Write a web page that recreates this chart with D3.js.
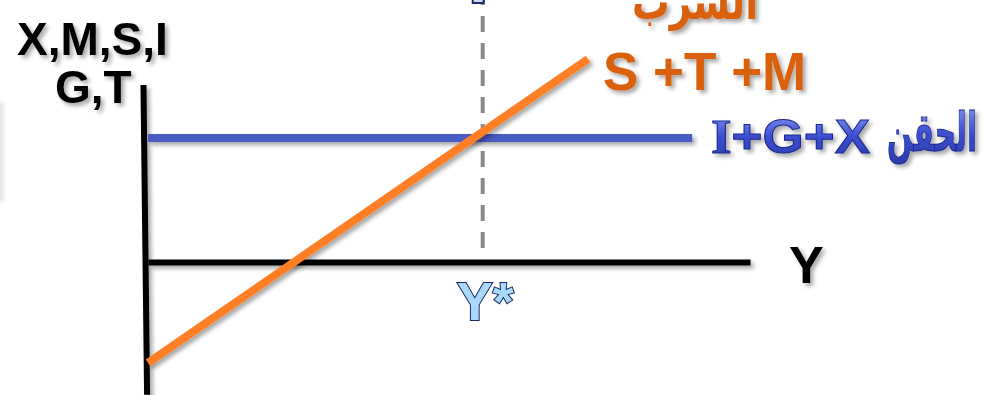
<!DOCTYPE html>
<html><head><meta charset="utf-8">
<script src="https://cdn.jsdelivr.net/npm/d3@7"></script>
<style>html,body{margin:0;padding:0;background:#fff;overflow:hidden}</style>
</head><body>
<script>
// ---- data (conceptual diagram, arbitrary units) ----
const xDomain = [0, 100];
const yDomain = [0, 100];
const lineNames = ["I+G+X", "S+T+M"];
const lineX0 = [0, 0];
const lineY0 = [70, -57];
const lineX1 = [90.4, 73.1];
const lineY1 = [70, 114.7];
const yStar = 55.6;
const axisYTop = 100, axisYBottom = -75;

const W = 990, H = 395;
const x = d3.scaleLinear().domain(xDomain).range([148, 750]);
const y = d3.scaleLinear().domain(yDomain).range([262, 85]);

const svg = d3.select("body").append("svg").attr("width", W).attr("height", H);
const defs = svg.append("defs");
const f = defs.append("filter").attr("id", "sh").attr("filterUnits", "userSpaceOnUse")
  .attr("x", -20).attr("y", -20).attr("width", W + 40).attr("height", H + 40);
f.append("feDropShadow").attr("dx", 3).attr("dy", 3).attr("stdDeviation", 2).attr("flood-color", "#000").attr("flood-opacity", 0.35);
const f2 = defs.append("filter").attr("id", "soft").attr("filterUnits", "userSpaceOnUse")
  .attr("x", -20).attr("y", 80).attr("width", 60).attr("height", 150);
f2.append("feGaussianBlur").attr("stdDeviation", 2);
const gBlue = defs.append("linearGradient").attr("id", "gb").attr("x1", 0).attr("y1", 0).attr("x2", 0).attr("y2", 1);
gBlue.append("stop").attr("offset", "0%").attr("stop-color", "#8c9cf0");
gBlue.append("stop").attr("offset", "50%").attr("stop-color", "#3c4fd0");
gBlue.append("stop").attr("offset", "100%").attr("stop-color", "#2a3aa8");

// left edge artifact (faint edge of neighbouring shape)
svg.append("rect").attr("x", -8).attr("y", 102).attr("width", 12).attr("height", 100)
  .attr("rx", 4).attr("fill", "#e6e6e6").attr("filter", "url(#soft)");

// dashed Y* line
svg.append("line").attr("x1", x(yStar)).attr("x2", x(yStar)).attr("y1", 0).attr("y2", 255)
  .attr("stroke", "#8a8a8a").attr("stroke-width", 4).attr("stroke-dasharray", "16 11").attr("stroke-dashoffset", 11);
svg.append("rect").attr("x", x(yStar) - 10).attr("y", -6).attr("width", 11).attr("height", 9)
  .attr("fill", "#d0dcf4").attr("stroke", "#1c2a6a").attr("stroke-width", 2);

// axes
const xAxis = svg.append("g").attr("transform", `translate(0,${y(0)})`)
  .call(d3.axisBottom(x).tickValues([]).tickSizeOuter(0));
xAxis.select(".domain").attr("stroke", "#000").attr("stroke-width", 6).attr("filter", "url(#sh)");
svg.append("line").attr("x1", x(-0.75)).attr("y1", y(axisYTop)).attr("x2", x(-0.15)).attr("y2", y(axisYBottom))
  .attr("stroke", "#000").attr("stroke-width", 6).attr("filter", "url(#sh)");

// lines
const colors = ["#4a5cc6", "#ff7f27"];
const widths = [8, 8];
svg.selectAll("line.series").data(lineNames).join("line").attr("class", "series")
  .attr("x1", (d, i) => x(lineX0[i])).attr("y1", (d, i) => y(lineY0[i]))
  .attr("x2", (d, i) => x(lineX1[i])).attr("y2", (d, i) => y(lineY1[i]))
  .attr("stroke", (d, i) => colors[i]).attr("stroke-width", (d, i) => widths[i]).attr("filter", "url(#sh)");

// fit a text to a given width by horizontal scaling (shadow applied on an untransformed parent)
function fitWidth(sel, x0, yb, w) {
  const n = sel.node().getComputedTextLength();
  const s = w / n;
  sel.attr("x", 0).attr("y", 0).attr("transform", `translate(${x0},${yb}) scale(${s},1)`);
}

// texts
const bold = "'Liberation Sans', Arial, sans-serif";
svg.append("text").attr("x", 17).attr("y", 55).attr("font-family", bold).attr("font-weight", "bold")
  .attr("font-size", 46).attr("fill", "#000").attr("filter", "url(#sh)").text("X,M,S,I");
svg.append("text").attr("x", 55).attr("y", 103).attr("font-family", bold).attr("font-weight", "bold")
  .attr("font-size", 46).attr("fill", "#000").attr("filter", "url(#sh)").text("G,T");

svg.append("text").attr("x", 603).attr("y", 90).attr("font-family", bold).attr("font-weight", "bold")
  .attr("font-size", 53).attr("fill", "#d9600c").attr("filter", "url(#sh)").text("S +T +M");

const gAr1 = svg.append("g").attr("filter", "url(#sh)");
const ar1 = gAr1.append("text").attr("font-family", "'DejaVu Sans', sans-serif").attr("font-weight", "bold")
  .attr("font-size", 50).attr("fill", "#d9600c").text("السرب");
fitWidth(ar1, 632, 19, 126);

const gTb = svg.append("g").attr("filter", "url(#sh)");
const tb = gTb.append("text").attr("font-family", bold).attr("font-weight", "bold")
  .attr("font-size", 48).attr("fill", "url(#gb)").attr("stroke", "#1a2890").attr("stroke-width", 1);
tb.append("tspan").attr("font-family", "'Liberation Serif', serif").text("I");
tb.append("tspan").text("+G+X");
fitWidth(tb, 711, 153, 159);

const gAr2 = svg.append("g").attr("filter", "url(#sh)");
const ar2 = gAr2.append("text").attr("font-family", "'DejaVu Sans', sans-serif").attr("font-weight", "bold")
  .attr("font-size", 54).attr("fill", "url(#gb)").attr("stroke", "#1a2890").attr("stroke-width", 1)
  .text("الحقن");
fitWidth(ar2, 887, 151, 90);

svg.append("text").attr("x", 789).attr("y", 283).attr("font-family", bold).attr("font-weight", "bold")
  .attr("font-size", 52).attr("fill", "#000").attr("filter", "url(#sh)").text("Y");

svg.append("text").attr("x", x(yStar) - 26).attr("y", 320).attr("font-family", bold).attr("font-weight", "bold")
  .attr("font-size", 54).attr("fill", "#a8d8fa").attr("stroke", "#1c2a64").attr("stroke-width", 2)
  .attr("paint-order", "stroke").text("Y*");
</script>
</body></html>
